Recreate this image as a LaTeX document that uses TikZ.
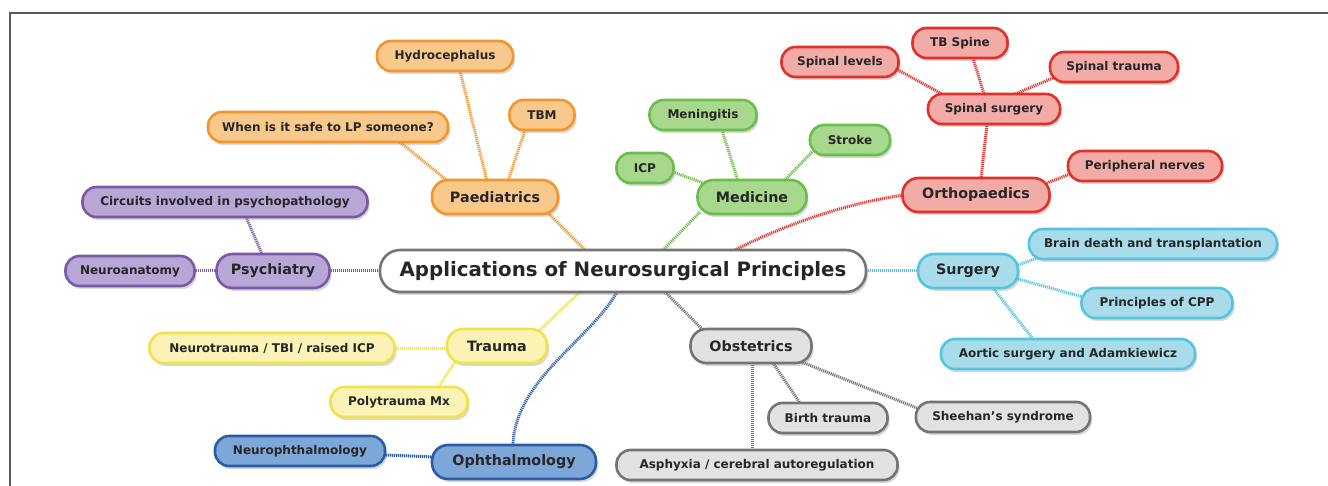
\documentclass[tikz,border=0pt]{standalone}
\usepackage{fontspec}
\setmainfont{DejaVu Sans}
\usetikzlibrary{shadows,backgrounds}
\definecolor{orF}{HTML}{F9C98C}\definecolor{orD}{HTML}{F2952E}
\definecolor{grF}{HTML}{A8D88D}\definecolor{grD}{HTML}{6CBE4C}
\definecolor{reF}{HTML}{F2ABA6}\definecolor{reD}{HTML}{E0312B}
\definecolor{puF}{HTML}{B8A6D6}\definecolor{puD}{HTML}{7A5AA6}
\definecolor{cyF}{HTML}{A8DCEB}\definecolor{cyD}{HTML}{55C4DF}
\definecolor{yeF}{HTML}{FBF3B6}\definecolor{yeD}{HTML}{F1E24A}
\definecolor{blF}{HTML}{7DA6D9}\definecolor{blD}{HTML}{2B5CA6}
\definecolor{gyF}{HTML}{E2E2E4}\definecolor{gyD}{HTML}{747474}
\begin{document}
\begin{tikzpicture}[x=1pt,y=-1pt,
  base/.style={draw, line width=2.6pt, text=black!85, inner sep=0pt,
    drop shadow={opacity=0.3, shadow xshift=2pt, shadow yshift=-3pt}},
  sm/.style={base, rounded corners=14pt, minimum height=30pt, font=\bfseries\fontsize{12}{14}\selectfont},
  bg/.style={base, rounded corners=16pt, minimum height=34pt, font=\bfseries\fontsize{14.3}{16}\selectfont},
  rootbox/.style={base, rounded corners=20pt, minimum height=42pt, fill=white, draw=gyD, font=\bfseries\fontsize{19.8}{22}\selectfont},
  org/.style={fill=orF, draw=orD}, grn/.style={fill=grF, draw=grD},
  rdd/.style={fill=reF, draw=reD}, ppl/.style={fill=puF, draw=puD},
  cyn/.style={fill=cyF, draw=cyD}, ylw/.style={fill=yeF, draw=yeD},
  blu/.style={fill=blF, draw=blD}, gry/.style={fill=gyF, draw=gyD},
  conn/.style={line width=3pt, dash pattern=on 1.1pt off 0.9pt}
]
\useasboundingbox (0,0) rectangle (1328,486);

% root
\node[rootbox, minimum width=486pt] (root) at (623,271) {Applications of Neurosurgical Principles};
% paediatrics
\node[bg, org, minimum width=126pt] (paed) at (495,197) {Paediatrics};
\node[sm, org, minimum width=136pt] (hydro) at (445,56) {Hydrocephalus};
\node[sm, org, minimum width=240pt] (lp) at (328,127) {When is it safe to LP someone?};
\node[sm, org, minimum width=65pt] (tbm) at (542,115) {TBM};
% medicine
\node[bg, grn, minimum width=109pt] (med) at (752,197) {Medicine};
\node[sm, grn, minimum width=107pt] (mening) at (703,115) {Meningitis};
\node[sm, grn, minimum width=57pt] (icp) at (645,168) {ICP};
\node[sm, grn, minimum width=80pt] (stroke) at (850,140) {Stroke};
% orthopaedics
\node[bg, rdd, minimum width=147pt] (ortho) at (976,195) {Orthopaedics};
\node[sm, rdd, minimum width=132pt] (ss) at (994,109) {Spinal surgery};
\node[sm, rdd, minimum width=117pt] (slev) at (840,62) {Spinal levels};
\node[sm, rdd, minimum width=95pt] (tbs) at (960,43) {TB Spine};
\node[sm, rdd, minimum width=128pt] (strauma) at (1114,67) {Spinal trauma};
\node[sm, rdd, minimum width=154pt] (periph) at (1145,166) {Peripheral nerves};
% psychiatry
\node[bg, ppl, minimum width=113pt] (psych) at (273,271) {Psychiatry};
\node[sm, ppl, minimum width=285pt] (circ) at (225,202) {Circuits involved in psychopathology};
\node[sm, ppl, minimum width=129pt] (neuroan) at (130,271) {Neuroanatomy};
% surgery
\node[bg, cyn, minimum width=100pt] (surg) at (968,271) {Surgery};
\node[sm, cyn, minimum width=248pt] (brain) at (1153,244) {Brain death and transplantation};
\node[sm, cyn, minimum width=151pt] (cpp) at (1157,303) {Principles of CPP};
\node[sm, cyn, minimum width=254pt] (aortic) at (1068,354) {Aortic surgery and Adamkiewicz};
% trauma
\node[bg, ylw, minimum width=100pt] (trauma) at (497,346) {Trauma};
\node[sm, ylw, minimum width=245pt] (ntbi) at (272,348) {Neurotrauma / TBI / raised ICP};
\node[sm, ylw, minimum width=137pt] (poly) at (399,402) {Polytrauma Mx};
% ophthalmology
\node[bg, blu, minimum width=164pt] (ophth) at (514,462) {Ophthalmology};
\node[sm, blu, minimum width=170pt] (nophth) at (300,451) {Neurophthalmology};
% obstetrics
\node[bg, gry, minimum width=121pt] (obst) at (751,346) {Obstetrics};
\node[sm, gry, minimum width=119pt] (birth) at (828,418) {Birth trauma};
\node[sm, gry, minimum width=174pt] (sheehan) at (1003,417) {Sheehan's syndrome};
\node[sm, gry, minimum width=281pt] (asph) at (757,465) {Asphyxia / cerebral autoregulation};

\begin{scope}[on background layer]
\fill[white] (0,0) rectangle (1328,486);
\draw[black!65, line width=1.2pt] (10,486) -- (10,13) -- (1328,13);
% paediatrics
\draw[conn, draw=orD] ([shift={(72,15)}]lp.center) -- ([shift={(-45,-14)}]paed.center);
\draw[conn, draw=orD] ([shift={(15,15)}]hydro.center) -- ([shift={(-8,-16)}]paed.center);
\draw[conn, draw=orD] ([shift={(-17,15)}]tbm.center) -- ([shift={(13,-16)}]paed.center);
\draw[conn, draw=orD] ([shift={(53,16)}]paed.center) -- ([shift={(-38,-21)}]root.center);
% medicine
\draw[conn, draw=grD] ([shift={(19,15)}]mening.center) -- ([shift={(-14,-16)}]med.center);
\draw[conn, draw=grD] ([shift={(28,4)}]icp.center) -- ([shift={(-49,-14)}]med.center);
\draw[conn, draw=grD] ([shift={(-38,12)}]stroke.center) -- ([shift={(33,-17)}]med.center);
\draw[conn, draw=grD] ([shift={(-52,15)}]med.center) -- ([shift={(40,-21)}]root.center);
% orthopaedics
\draw[conn, draw=reD] ([shift={(58,8)}]slev.center) -- ([shift={(-52,-15)}]ss.center);
\draw[conn, draw=reD] ([shift={(13,15)}]tbs.center) -- ([shift={(-10,-15)}]ss.center);
\draw[conn, draw=reD] ([shift={(-61,11)}]strauma.center) -- ([shift={(21,-15)}]ss.center);
\draw[conn, draw=reD] ([shift={(-7,15)}]ss.center) -- ([shift={(5,-17)}]ortho.center);
\draw[conn, draw=reD] ([shift={(-75,8)}]periph.center) -- ([shift={(71,-12)}]ortho.center);
\draw[conn, draw=reD] ([shift={(112,-21)}]root.center) .. controls (790,222) and (850,203) .. ([shift={(-73,0)}]ortho.center);
% surgery
\draw[conn, draw=cyD] ([shift={(243,0)}]root.center) -- ([shift={(-50,0)}]surg.center);
\draw[conn, draw=cyD] ([shift={(50,-6)}]surg.center) -- ([shift={(-110,12)}]brain.center);
\draw[conn, draw=cyD] ([shift={(50,8)}]surg.center) -- ([shift={(-74,-6)}]cpp.center);
\draw[conn, draw=cyD] ([shift={(25,17)}]surg.center) -- ([shift={(-35,-15)}]aortic.center);
% obstetrics
\draw[conn, draw=gyD] ([shift={(42,21)}]root.center) -- ([shift={(-48,-16)}]obst.center);
\draw[conn, draw=gyD] ([shift={(22,17)}]obst.center) -- ([shift={(-28,-15)}]birth.center);
\draw[conn, draw=gyD] ([shift={(48,15)}]obst.center) -- ([shift={(-86,-9)}]sheehan.center);
\draw[conn, draw=gyD] ([shift={(1,17)}]obst.center) -- ([shift={(-5,-15)}]asph.center);
% trauma
\draw[conn, draw=yeD] ([shift={(-43,21)}]root.center) -- ([shift={(43,-16)}]trauma.center);
\draw[conn, draw=yeD] ([shift={(-50,2)}]trauma.center) -- ([shift={(122,0)}]ntbi.center);
\draw[conn, draw=yeD] ([shift={(-42,16)}]trauma.center) -- ([shift={(39,-14)}]poly.center);
% ophthalmology
\draw[conn, draw=blD] ([shift={(-6,21)}]root.center) .. controls (590,340) and (515,380) .. ([shift={(-1,-17)}]ophth.center);
\draw[conn, draw=blD] ([shift={(-81,-5)}]ophth.center) -- ([shift={(85,4)}]nophth.center);
% psychiatry
\draw[conn, draw=puD] ([shift={(56,0)}]psych.center) -- ([shift={(-243,0)}]root.center);
\draw[conn, draw=puD] ([shift={(64,0)}]neuroan.center) -- ([shift={(-56,0)}]psych.center);
\draw[conn, draw=puD] ([shift={(21,15)}]circ.center) -- ([shift={(-11,-17)}]psych.center);
\end{scope}
\end{tikzpicture}
\end{document}
